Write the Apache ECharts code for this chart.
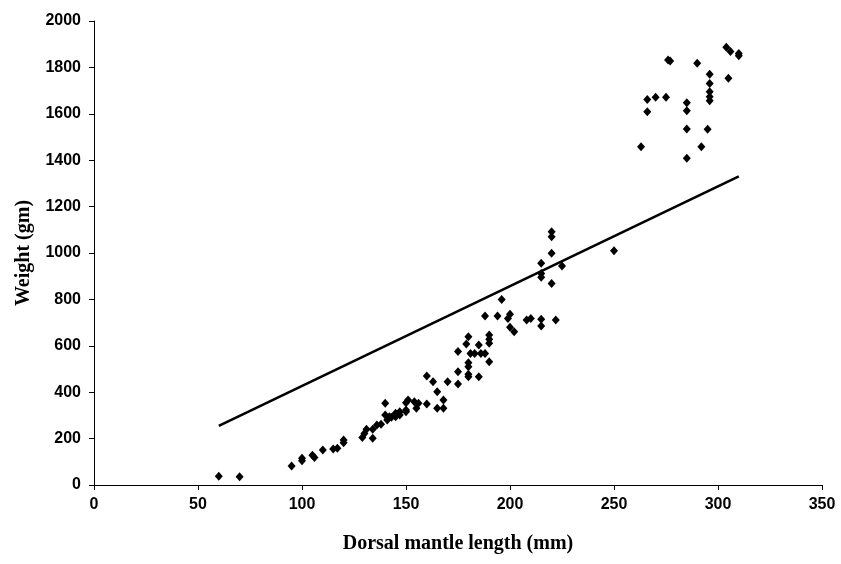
<!DOCTYPE html>
<html>
<head>
<meta charset="utf-8">
<script src="https://cdn.jsdelivr.net/npm/echarts@6/dist/echarts.min.js"></script>
<style>
html,body{margin:0;padding:0;background:#fff;}
#chart{width:841px;height:564px;}
</style>
</head>
<body>
<div id="chart"></div>
<script>
// Dorsal mantle length (mm)
var lengths = [60,70,95,100,100,105,106,110,115,117,120,120,
  129,130,131,134,134,136,138,140,140,141,142,143,145,145,147,147,150,150,150,151,154,155,156,160,
  160,163,165,165,168,168,170,175,175,175,179,180,180,180,180,180,181,183,185,185,186,188,188,190,190,190,190,
  194,196,199,200,200,202,208,210,215,215,215,215,215,220,220,220,220,222,225,
  250,
  263,266,266,270,275,276,277,285,285,285,285,290,292,295,296,296,296,296,296,304,306,305,310,310];
// Weight (gm)
var weights = [38,36,82,105,115,128,118,151,155,158,182,194,
  205,222,240,201,240,259,262,302,352,280,294,292,294,309,302,316,316,323,355,366,359,331,352,349,
  470,445,402,331,331,366,445,435,488,575,608,639,527,510,477,467,567,567,603,467,567,567,728,647,628,611,531,
  728,800,718,736,680,661,711,718,714,685,956,912,895,1092,1070,999,869,711,944,
  1010,
  1458,1609,1662,1671,1671,1832,1828,1408,1534,1613,1648,1818,1458,1533,1656,1674,1695,1731,1770,1887,1868,1753,1850,1860];
// Regression line end points
var fitX = [60, 310];
var fitY = [255, 1330];
var xTicks = [0,50,100,150,200,250,300,350];
var yTicks = [0,200,400,600,800,1000,1200,1400,1600,1800,2000];

var scatterData = lengths.map(function(v,i){return [v, weights[i]];});
var lineData = fitX.map(function(v,i){return [v, fitY[i]];});

var chart = echarts.init(document.getElementById('chart'), null, {renderer:'canvas'});
var labelFont = {color:'#000', fontFamily:'Liberation Sans, Arial, sans-serif', fontWeight:'bold', fontSize:16,
  formatter:function(v){return String(v);}};
var nameFont = {color:'#000', fontFamily:'Liberation Serif, Times New Roman, serif', fontWeight:'bold', fontSize:20};
chart.setOption({
  animation:false,
  backgroundColor:'#ffffff',
  grid:{left:94, right:19, top:21, bottom:79, containLabel:false},
  xAxis:{
    type:'value', min:xTicks[0], max:xTicks[xTicks.length-1], interval:50,
    name:'Dorsal mantle length (mm)', nameLocation:'middle', nameGap:49,
    nameTextStyle:nameFont,
    axisLine:{show:true, onZero:false, lineStyle:{color:'#000', width:1}},
    axisTick:{show:true, inside:false, length:5, lineStyle:{color:'#000'}},
    axisLabel:Object.assign({margin:12}, labelFont),
    splitLine:{show:false}
  },
  yAxis:{
    type:'value', min:yTicks[0], max:yTicks[yTicks.length-1], interval:200,
    name:'Weight (gm)', nameLocation:'middle', nameGap:60, nameRotate:90,
    nameTextStyle:nameFont,
    axisLine:{show:true, onZero:false, lineStyle:{color:'#000', width:1}},
    axisTick:{show:true, inside:false, length:5, lineStyle:{color:'#000'}},
    axisLabel:Object.assign({margin:13}, labelFont),
    splitLine:{show:false}
  },
  series:[
    {type:'scatter', data:scatterData, symbol:'diamond', symbolSize:[8,9],
     itemStyle:{color:'#000', opacity:1}, z:3},
    {type:'line', data:lineData, symbol:'none', showSymbol:false,
     lineStyle:{color:'#000', width:2.6}, z:2}
  ]
});
</script>
</body>
</html>
